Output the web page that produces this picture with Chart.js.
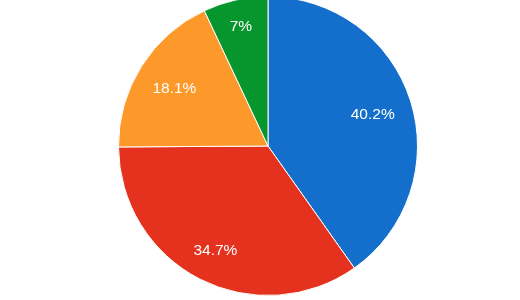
<!DOCTYPE html>
<html><head><meta charset="utf-8">
<script src="https://cdn.jsdelivr.net/npm/chart.js@4"></script>
<style>
html,body{margin:0;padding:0;background:#fff;overflow:hidden;}
#wrap{position:absolute;left:0;top:-4px;width:536px;height:300px;}
</style></head><body>
<div id="wrap"><canvas id="c"></canvas></div>
<script>
const categories = ["A", "B", "C", "D"];
const values = [40.2, 34.7, 18.1, 7];
const labels = ["40.2%", "34.7%", "18.1%", "7%"];
const colors = ["#146ecb", "#e4321f", "#fd982a", "#07952d"];

const labelPlugin = {
  id: 'sliceLabels',
  afterDatasetsDraw(chart, args, opts) {
    const ctx = chart.ctx;
    const meta = chart.getDatasetMeta(0);
    ctx.save();
    ctx.fillStyle = '#fff';
    ctx.font = '15.5px "Liberation Sans", Arial, sans-serif';
    ctx.textAlign = 'center';
    ctx.textBaseline = 'middle';
    meta.data.forEach((arc, i) => {
      const p = arc.getProps(['x','y','startAngle','endAngle','outerRadius'], true);
      const mid = (p.startAngle + p.endAngle) / 2;
      const r = p.outerRadius * opts.radii[i];
      ctx.fillText(labels[i], p.x + Math.cos(mid) * r, p.y + Math.sin(mid) * r + 2);
    });
    ctx.restore();
  }
};

new Chart(document.getElementById('c'), {
  type: 'pie',
  data: {
    labels: categories,
    datasets: [{ data: values, backgroundColor: colors, borderColor: '#fff', borderWidth: 1 }]
  },
  options: {
    responsive: true,
    maintainAspectRatio: false,
    animation: false,
    layout: { padding: 0 },
    plugins: {
      legend: { display: false },
      tooltip: { enabled: false },
      sliceLabels: { radii: [0.735, 0.77, 0.74, 0.83] }
    }
  },
  plugins: [labelPlugin]
});
</script>
</body></html>
